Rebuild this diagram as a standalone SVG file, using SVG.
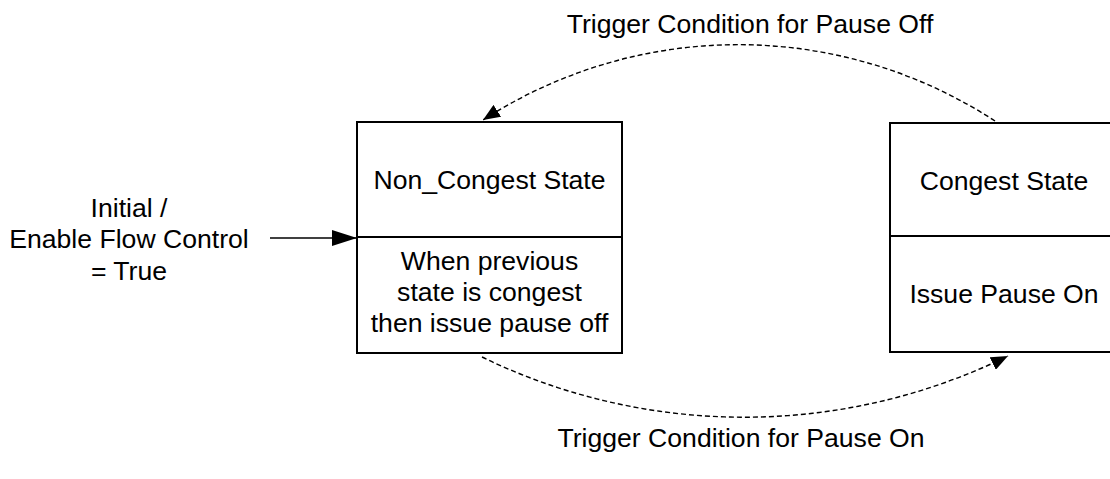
<svg xmlns="http://www.w3.org/2000/svg" width="1110" height="479" viewBox="0 0 1110 479">
<style>
text{font-family:"Liberation Sans",Arial,sans-serif;font-size:26.6px;fill:#000;text-anchor:middle}
.box{fill:#fff;stroke:#000;stroke-width:2}
.div{stroke:#000;stroke-width:2}
.dash{fill:none;stroke:#000;stroke-width:1.4;stroke-dasharray:5,3}
.solid{fill:none;stroke:#000;stroke-width:1.6}
</style>
<defs>
<marker id="ah" markerUnits="userSpaceOnUse" markerWidth="18" markerHeight="14" refX="17" refY="7" orient="auto">
<path d="M0,0 L17,7 L0,14 Z" fill="#000"/>
</marker>
<marker id="ahBig" markerUnits="userSpaceOnUse" markerWidth="26" markerHeight="16" refX="25" refY="8" orient="auto">
<path d="M0,0 L25,8 L0,16 Z" fill="#000"/>
</marker>
</defs>
<g id="connectors">
<path class="dash" d="M995,121 A470,470 0 0,0 483,120" marker-end="url(#ah)"/>
<path class="dash" d="M482,357 A600,600 0 0,0 1008,356" marker-end="url(#ah)"/>
<path class="solid" d="M270,238 L357,238" marker-end="url(#ahBig)"/>
</g>
<g id="label-pause-off"><text x="750" y="33">Trigger Condition for Pause Off</text></g>
<g id="label-pause-on"><text x="741" y="447">Trigger Condition for Pause On</text></g>
<g id="label-initial">
<text x="129" y="217">Initial /</text>
<text x="129" y="248">Enable Flow Control</text>
<text x="129" y="280">= True</text>
</g>
<g id="node-non-congest">
<rect class="box" x="357" y="122" width="265" height="231"/>
<line class="div" x1="357" y1="237" x2="622" y2="237"/>
<text x="489.5" y="189">Non_Congest State</text>
<text x="489.5" y="270">When previous</text>
<text x="489.5" y="301">state is congest</text>
<text x="489.5" y="332">then issue pause off</text>
</g>
<g id="node-congest">
<rect class="box" x="890" y="123" width="240" height="229"/>
<line class="div" x1="890" y1="236" x2="1130" y2="236"/>
<text x="1004" y="190">Congest State</text>
<text x="1004" y="303">Issue Pause On</text>
</g>
</svg>
